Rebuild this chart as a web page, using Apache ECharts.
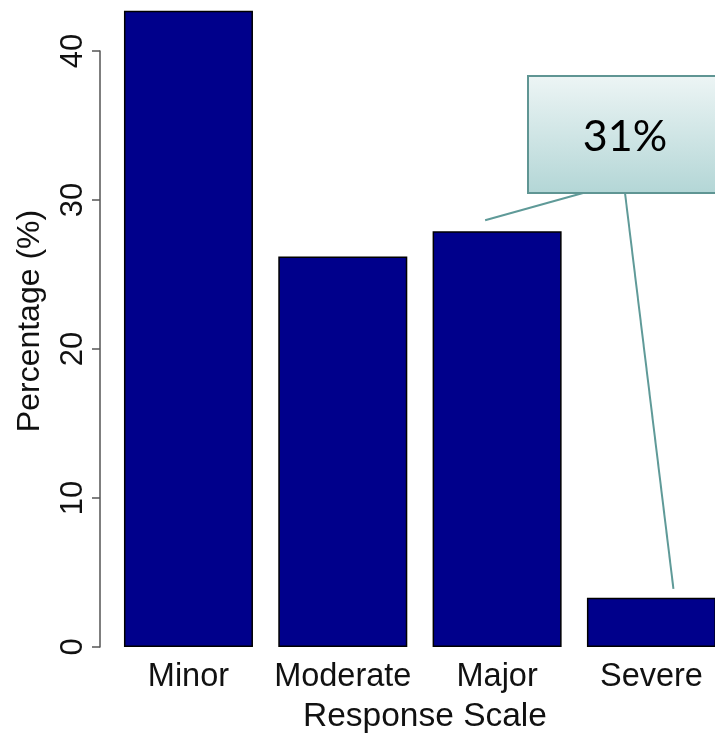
<!DOCTYPE html>
<html>
<head>
<meta charset="utf-8">
<script src="https://cdn.jsdelivr.net/npm/echarts@6/dist/echarts.min.js"></script>
<style>
html,body{margin:0;padding:0;background:#fff;}
#chart{width:715px;height:742px;}
</style>
</head>
<body>
<div id="chart"></div>
<script>
var categories = ['Minor', 'Moderate', 'Major', 'Severe'];
var percentages = [42.7, 26.2, 27.9, 3.3];
var yTicks = [0, 10, 20, 30, 40];
var calloutText = '31%';

var chart = echarts.init(document.getElementById('chart'), null, {renderer: 'canvas'});
var baseFont = 'Liberation Sans, Arial, Helvetica, sans-serif';

var option = {
  animation: false,
  backgroundColor: '#ffffff',
  grid: {left: 111.3, width: 617.3, top: 51, bottom: 95, containLabel: false, outerBoundsMode: 'none'},
  xAxis: {
    type: 'category',
    data: categories,
    axisLine: {show: false},
    axisTick: {show: false},
    axisLabel: {interval: 0, fontFamily: baseFont, fontSize: 32.5, color: '#111', margin: 14},
    name: 'Response Scale',
    nameLocation: 'middle',
    nameGap: 53,
    nameTextStyle: {fontFamily: baseFont, fontSize: 33.5, color: '#111', padding: [0, 0, 0, 10]}
  },
  yAxis: {
    type: 'value',
    min: yTicks[0],
    max: yTicks[yTicks.length - 1],
    interval: 10,
    offset: 11.3,
    splitLine: {show: false},
    axisLine: {show: true, lineStyle: {color: '#555', width: 1.5}},
    axisTick: {show: true, length: 8, lineStyle: {color: '#555', width: 1.5}},
    axisLabel: {rotate: 90, fontFamily: baseFont, fontSize: 31, color: '#111', margin: 11},
    name: 'Percentage (%)',
    nameLocation: 'middle',
    nameGap: 54,
    nameRotate: 90,
    nameTextStyle: {fontFamily: baseFont, fontSize: 32, color: '#111', padding: [0, 0, 0, 56]}
  },
  series: [{
    type: 'bar',
    data: percentages,
    barCategoryGap: '16.4%',
    clip: false,
    itemStyle: {color: '#00008B', borderColor: '#000', borderWidth: 1.5}
  }]
};
chart.setOption(option);

// Callout annotation
var pMajor = chart.convertToPixel({xAxisIndex: 0, yAxisIndex: 0}, [categories[2], percentages[2]]);
var pSevere = chart.convertToPixel({xAxisIndex: 0, yAxisIndex: 0}, [categories[3], percentages[3]]);
var lineStyle = {stroke: '#5f9a98', lineWidth: 2};
chart.setOption({
  graphic: [
    {type: 'line', shape: {x1: 583, y1: 193, x2: pMajor[0] - 12, y2: pMajor[1] - 11}, style: lineStyle, z: 10},
    {type: 'line', shape: {x1: 625, y1: 193, x2: pSevere[0] + 22, y2: pSevere[1] - 9}, style: lineStyle, z: 10},
    {type: 'rect', shape: {x: 528, y: 76, width: 196, height: 117}, z: 11,
      style: {
        fill: new echarts.graphic.LinearGradient(0, 0, 0, 1, [
          {offset: 0, color: '#edf5f5'},
          {offset: 1, color: '#b3d6d6'}
        ]),
        stroke: '#5f9593', lineWidth: 2
      }
    },
    {type: 'text', x: 625, y: 137, z: 12,
      style: {text: calloutText, fontFamily: 'Lato, Noto Sans, sans-serif', fontSize: 43, fill: '#000', align: 'center', verticalAlign: 'middle'}
    }
  ]
});
</script>
</body>
</html>
